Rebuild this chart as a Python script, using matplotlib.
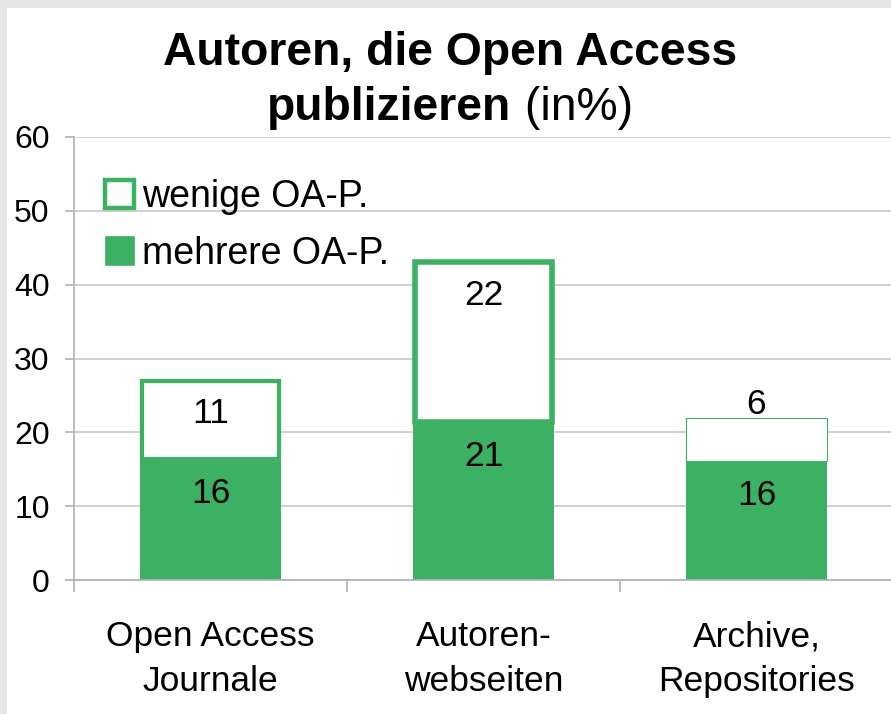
import numpy as np
import matplotlib.pyplot as plt
from matplotlib.patches import Patch, Rectangle

# daten (in %)
categories = ["Open Access\nJournale", "Autoren-\nwebseiten", "Archive,\nRepositories"]
mehrere = [16.4, 21.4, 16.1]
wenige = [10.6, 21.7, 5.85]
mehrere_labels = ["16", "21", "16"]
wenige_labels = ["11", "22", "6"]
series_names = ["wenige OA-P.", "mehrere OA-P."]

GREEN = "#3cb063"
GRID = "#c8c8c8"
AXIS = "#b0b0b0"
W, H, DPI = 891, 714, 100


def main():
    plt.rcParams["font.family"] = ["Liberation Sans", "DejaVu Sans"]
    fig = plt.figure(figsize=(W / DPI, H / DPI), dpi=DPI, facecolor="#e6e6e6")
    # weisse flaeche mit grauem rand oben/links
    fig.patches.append(Rectangle((7 / W, 0), 1, 1 - 8 / H, transform=fig.transFigure,
                                 facecolor="white", edgecolor="none", zorder=-10))

    ax = fig.add_axes([74 / W, (H - 580) / H, (893 - 74) / W, (580 - 137) / H])
    ax.set_facecolor("none")
    x = np.arange(len(categories))
    width = 0.52
    px_per_unit = (893 - 74) / 3.0

    edge_lw = [3.0, 4.0, 0.8]  # rahmendicke der oberen segmente (pt)
    for i in range(len(x)):
        lw_px = edge_lw[i] * DPI / 72.0
        ax.bar(x[i], wenige[i], width=width - lw_px / px_per_unit, bottom=mehrere[i],
               facecolor="white", edgecolor=GREEN, linewidth=edge_lw[i], zorder=3)
    ax.bar(x, mehrere, width=width, color=GREEN, edgecolor="none", zorder=4)

    lab_fs = 25.5
    for i in range(len(x)):
        ax.annotate(mehrere_labels[i], (x[i], mehrere[i]), xytext=(0, -25), textcoords="offset points",
                    ha="center", va="center", fontsize=lab_fs, zorder=5)
        top = mehrere[i] + wenige[i]
        if wenige[i] > 8:
            ax.annotate(wenige_labels[i], (x[i], top), xytext=(0, -24), textcoords="offset points",
                        ha="center", va="center", fontsize=lab_fs, zorder=5)
        else:
            ax.annotate(wenige_labels[i], (x[i], top), xytext=(0, 10), textcoords="offset points",
                        ha="center", va="center", fontsize=lab_fs, zorder=5)

    ax.set_xlim(-0.5, 2.5)
    ax.set_ylim(0, 60)
    ax.set_yticks(np.arange(0, 61, 10))
    ax.yaxis.grid(True, color=GRID, linewidth=1.2, zorder=0)
    ax.set_axisbelow(True)
    for s in ["top", "right"]:
        ax.spines[s].set_visible(False)
    for s in ["left", "bottom"]:
        ax.spines[s].set_color(AXIS)
        ax.spines[s].set_linewidth(1.2)
        ax.spines[s].set_zorder(6)
    ax.spines["left"].set_bounds(0, 60)

    ax.set_xticks(x)
    ax.set_xticklabels(categories, fontsize=25.5, linespacing=1.45)
    ax.set_xticks([-0.5, 0.5, 1.5, 2.5], minor=True)
    ax.tick_params(axis="x", which="major", length=0, pad=29)
    ax.tick_params(axis="x", which="minor", length=8.5, color=AXIS, width=1.2)
    ax.tick_params(axis="y", length=6.5, color=AXIS, width=1.2, labelsize=23, pad=11)

    handles = [Patch(facecolor="white", edgecolor=GREEN, linewidth=3.2),
               Patch(facecolor=GREEN, edgecolor=GREEN, linewidth=0.5)]
    ax.legend(handles, series_names, loc="upper left", bbox_to_anchor=(105 / W, 1 - 179 / H),
              bbox_transform=fig.transFigure, frameon=False, fontsize=27,
              handlelength=0.78, handleheight=0.78, handletextpad=0.2, labelspacing=0.55,
              borderpad=0, borderaxespad=0)

    # titel, zweite zeile gemischt fett/normal
    fig.text(450 / W, 1 - 65 / H, "Autoren, die Open Access", ha="center", va="baseline",
             fontsize=33.3, fontweight="bold")
    fig.canvas.draw()
    r = fig.canvas.get_renderer()
    t1 = fig.text(0, 1 - 120 / H, "publizieren", ha="left", va="baseline",
                  fontsize=33.3, fontweight="bold")
    t2 = fig.text(0, 1 - 120 / H, " (in%)", ha="left", va="baseline", fontsize=33.3)
    w1 = t1.get_window_extent(r).width
    w2 = t2.get_window_extent(r).width
    x0 = 450 - (w1 + w2) / 2
    t1.set_x(x0 / W)
    t2.set_x((x0 + w1) / W)

    fig.savefig("out.png", dpi=DPI, facecolor=fig.get_facecolor())


if __name__ == "__main__":
    main()
